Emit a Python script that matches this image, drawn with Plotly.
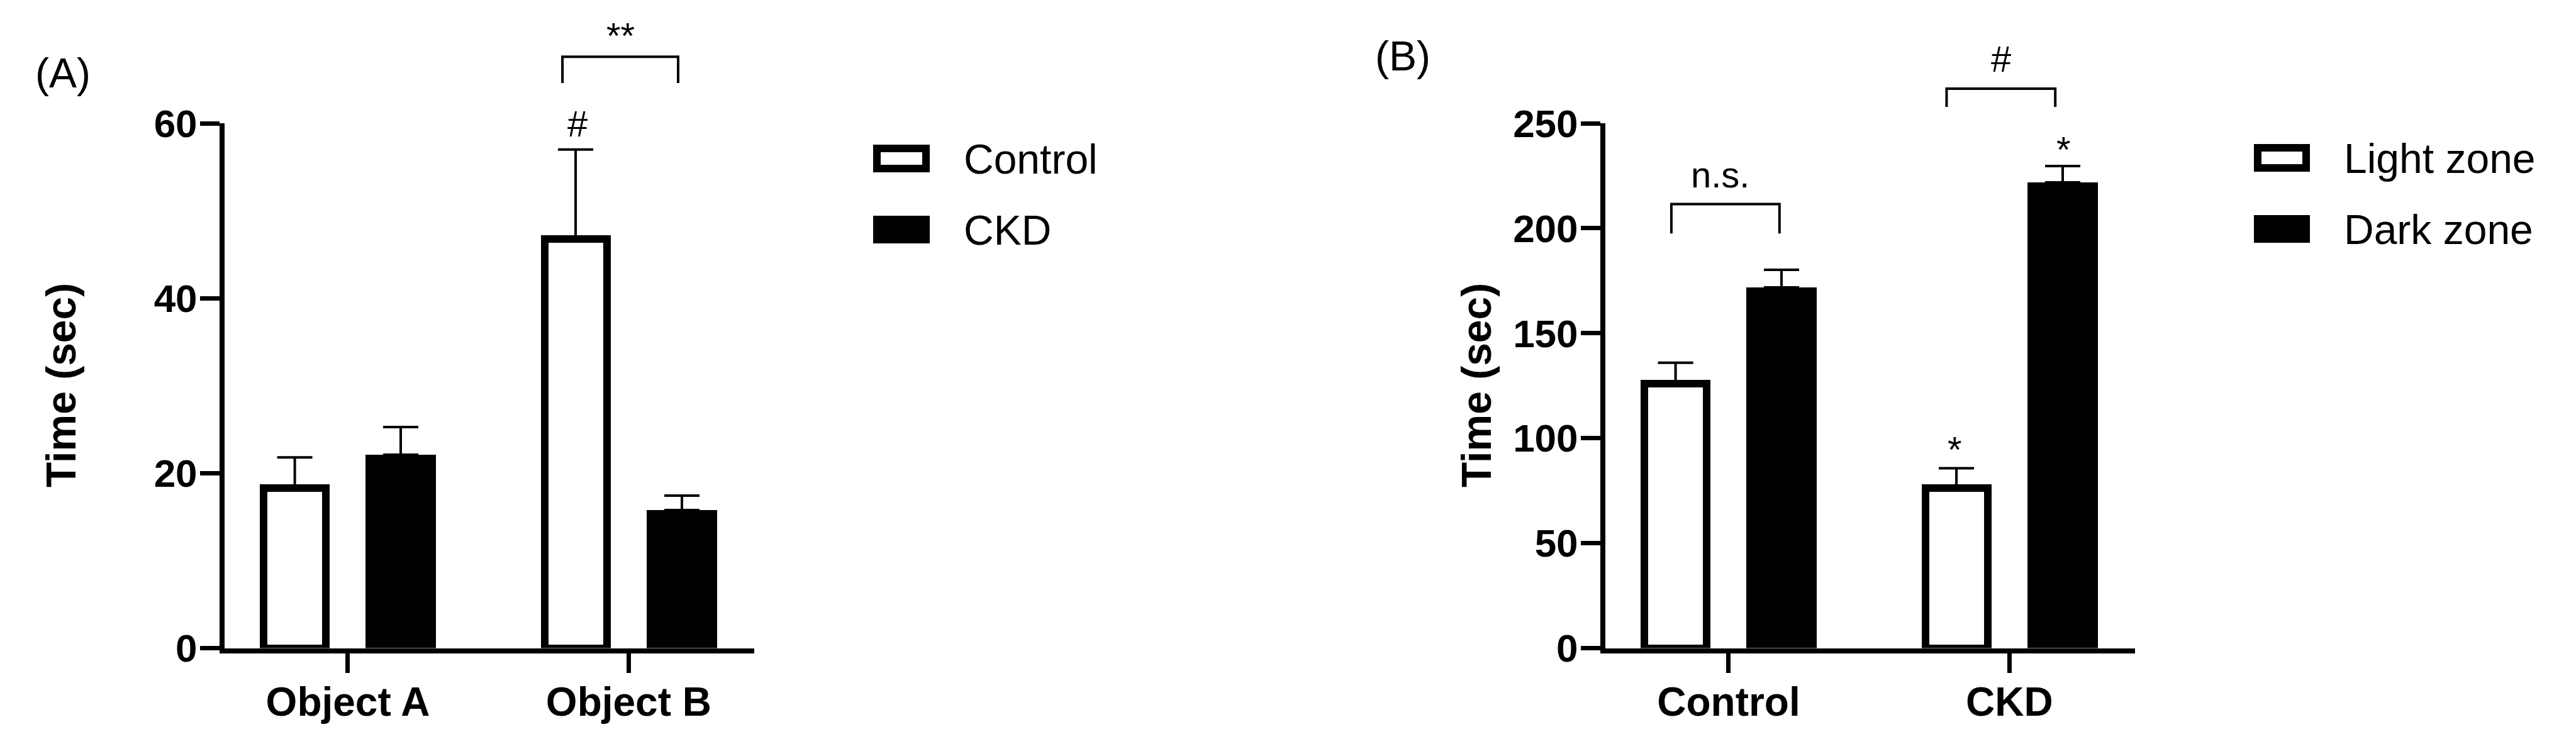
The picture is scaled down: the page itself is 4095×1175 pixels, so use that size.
import plotly.graph_objects as go

W, H = 4095, 1175

# ---- data ----
groups_a = ["Object A", "Object B"]
control_a = [18.3, 46.8]
control_a_err = [3.5, 10.2]
ckd_a = [22.1, 15.8]
ckd_a_err = [3.2, 1.6]

groups_b = ["Control", "CKD"]
light_b = [126.0, 76.1]
light_b_err = [9.9, 9.6]
dark_b = [171.8, 221.7]
dark_b_err = [8.3, 8.0]

ticks_a = [0, 20, 40, 60]
ticks_b = [0, 50, 100, 150, 200, 250]

FONT = "Liberation Sans, Arial, sans-serif"

# plot areas in pixels
PA = dict(x0=357, x1=1199)
PB = dict(x0=2552, x1=3394)
Y_TOP, Y_BOT = 196, 1030.5
XR = [-0.439, 1.447]
YR_A = [0, 60]
YR_B = [0, 250]


def px(x):
    return x / W


def py(y):
    return 1 - y / H


def dx(v, panel):
    # data x -> paper
    p = PA if panel == "a" else PB
    return px(p["x0"] + (v - XR[0]) / (XR[1] - XR[0]) * (p["x1"] - p["x0"]))


def dy(v, panel):
    r = YR_A if panel == "a" else YR_B
    return py(Y_BOT - (v - r[0]) / (r[1] - r[0]) * (Y_BOT - Y_TOP))


fig = go.Figure()

err_style = dict(type="data", symmetric=False, color="black", thickness=4, width=28)

def white_bar(vals, errs, xa, ya):
    return go.Bar(x=[0, 1], y=vals, width=0.222, offset=-0.300,
                  marker=dict(color="white", line=dict(color="black", width=12)),
                  error_y=dict(array=errs, arrayminus=[0, 0], **err_style),
                  xaxis=xa, yaxis=ya, showlegend=False)

def black_bar(vals, errs, xa, ya):
    return go.Bar(x=[0, 1], y=vals, width=0.251, offset=0.063,
                  marker=dict(color="black", line=dict(width=0)),
                  error_y=dict(array=errs, arrayminus=[0, 0], **err_style),
                  xaxis=xa, yaxis=ya, showlegend=False)

fig.add_trace(white_bar(control_a, control_a_err, "x", "y"))
fig.add_trace(black_bar(ckd_a, ckd_a_err, "x", "y"))
fig.add_trace(white_bar(light_b, light_b_err, "x2", "y2"))
fig.add_trace(black_bar(dark_b, dark_b_err, "x2", "y2"))

axis_common = dict(showline=True, linewidth=8, linecolor="black", ticks="outside",
                   ticklen=31, tickwidth=7, tickcolor="black", showgrid=False,
                   zeroline=False, fixedrange=True, automargin=False)

fig.update_layout(
    width=W, height=H, autosize=False,
    margin=dict(l=0, r=0, t=0, b=0, pad=0, autoexpand=False),
    paper_bgcolor="white", plot_bgcolor="white",
    bargap=0,
    font=dict(family=FONT, color="black"),
    xaxis=dict(domain=[px(PA["x0"]), px(PA["x1"])], range=XR, tickvals=[0, 1],
               ticktext=groups_a, anchor="y", ticklabelstandoff=-8,
               tickfont=dict(size=64, weight="bold", family=FONT), **axis_common),
    yaxis=dict(domain=[py(Y_BOT), py(Y_TOP)], range=YR_A, tickvals=ticks_a, anchor="x",
               ticklabelstandoff=-8,
               tickfont=dict(size=62, weight="bold", family=FONT), **axis_common),
    xaxis2=dict(domain=[px(PB["x0"]), px(PB["x1"])], range=XR, tickvals=[0, 1],
                ticktext=groups_b, anchor="y2", ticklabelstandoff=-8,
                tickfont=dict(size=64, weight="bold", family=FONT), **axis_common),
    yaxis2=dict(domain=[py(Y_BOT), py(Y_TOP)], range=YR_B, tickvals=ticks_b, anchor="x2",
                ticklabelstandoff=-8,
                tickfont=dict(size=62, weight="bold", family=FONT), **axis_common),
)

ann = []
shapes = []

# panel letters
ann.append(dict(text="(A)", x=px(100), y=py(116), font=dict(size=66)))
ann.append(dict(text="(B)", x=px(2230), y=py(89), font=dict(size=66)))

# y axis titles
for xpix in (97, 2347):
    ann.append(dict(text="Time (sec)", x=px(xpix), y=py(613), textangle=-90,
                    font=dict(size=66, weight="bold")))

# significance brackets: (panel, x_left, x_right, y_top, y_leg)
brackets = [("a", 0.764, 1.176, 67.6, 64.6),
            ("b", -0.204, 0.181, 211.5, 197.5),
            ("b", 0.776, 1.163, 266.5, 257.8)]
for p, xl, xr, yt, yl in brackets:
    shapes.append(dict(type="path", xref="paper", yref="paper",
                       path=f"M {dx(xl, p)} {dy(yl, p)} L {dx(xl, p)} {dy(yt, p)} "
                            f"L {dx(xr, p)} {dy(yt, p)} L {dx(xr, p)} {dy(yl, p)}",
                       line=dict(color="black", width=4)))

# significance marks: (panel, x, y, text)
marks = [("a", 0.970, 70.0, "**"),
         ("a", 0.817, 60.0, "#"),
         ("b", -0.029, 225.7, "n.s."),
         ("b", 0.971, 280.8, "#"),
         ("b", 0.805, 94.6, "*"),
         ("b", 1.192, 237.5, "*")]
for p, xv, yv, t in marks:
    ann.append(dict(text=t, x=dx(xv, p), y=dy(yv, p), font=dict(size=58)))

# legends
legend_rows = [(1388, 1478, 230, 274, "white", "Control"),
               (1388, 1478, 343, 387, "black", "CKD"),
               (3583, 3672, 229, 273, "white", "Light zone"),
               (3583, 3672, 342, 386, "black", "Dark zone")]
for x0, x1, y0, y1, fill, label in legend_rows:
    if fill == "white":
        shapes.append(dict(type="rect", xref="paper", yref="paper",
                           x0=px(x0 + 6), x1=px(x1 - 6), y0=py(y0 + 6), y1=py(y1 - 6),
                           fillcolor="white", line=dict(color="black", width=12)))
    else:
        shapes.append(dict(type="rect", xref="paper", yref="paper",
                           x0=px(x0), x1=px(x1), y0=py(y0), y1=py(y1),
                           fillcolor="black", line=dict(width=0)))
    ann.append(dict(text=label, x=px(x1 + 52), y=py((y0 + y1) / 2 + 1),
                    xanchor="left", font=dict(size=66)))

for a in ann:
    a.setdefault("xref", "paper")
    a.setdefault("yref", "paper")
    a.setdefault("showarrow", False)
    a.setdefault("xanchor", "center")
    a.setdefault("yanchor", "middle")
    a["font"].setdefault("family", FONT)
    a["font"].setdefault("color", "black")

fig.update_layout(annotations=ann, shapes=shapes)

fig.write_html("out.html", config={"displayModeBar": False},
               post_script="document.body.style.margin='0';")
